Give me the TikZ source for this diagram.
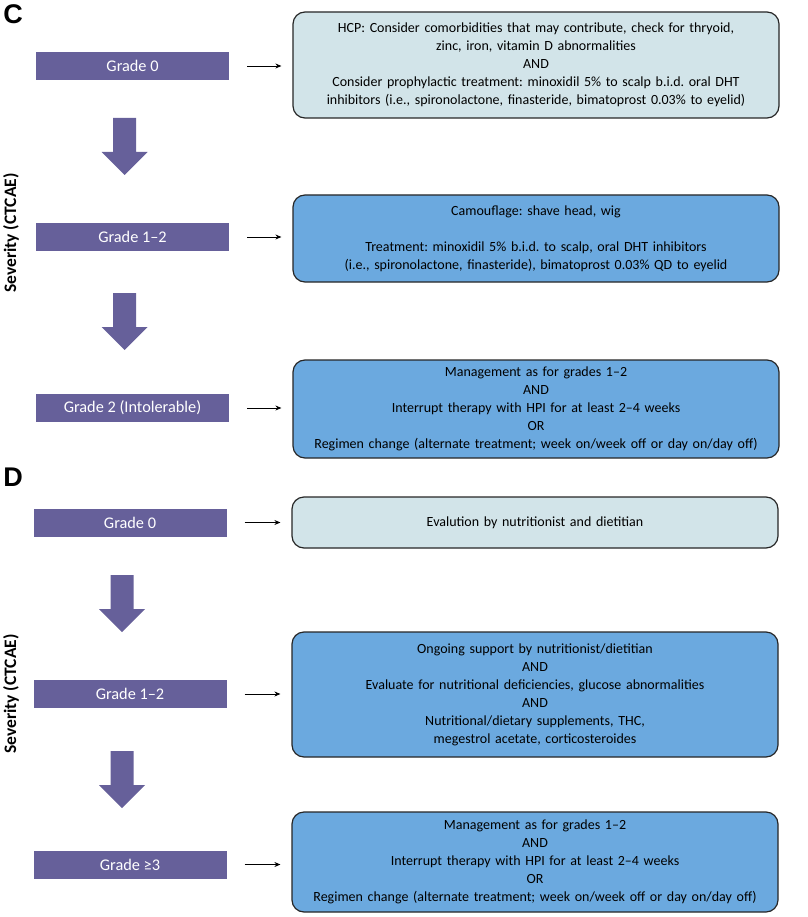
\documentclass[tikz,border=0pt]{standalone}
\usepackage{fontspec}
\setmainfont{Carlito}
\newfontfamily\panelfont{Liberation Sans}
\usetikzlibrary{arrows.meta,positioning}
\definecolor{gradebar}{RGB}{102,96,154}
\definecolor{palebox}{RGB}{210,228,233}
\definecolor{bluebox}{RGB}{107,169,223}
\frenchspacing

\begin{document}
\begin{tikzpicture}[
x=1pt, y=-1pt,
panel/.style={font=\panelfont\bfseries\fontsize{27}{27}\selectfont, inner sep=0pt},
severity/.style={rotate=90, font=\bfseries\fontsize{17.5}{17.5}\selectfont, inner sep=0pt},
grade/.style={fill=gradebar, text=white, minimum width=193pt, minimum height=28pt, inner sep=0pt, font=\fontsize{16.3}{18}\selectfont},
advice/.style={draw=black!85, line width=1.2pt, rounded corners=12pt, minimum width=486pt, text width=480pt, align=center, inner sep=0pt, font=\fontsize{14}{18}\selectfont},
pointer/.style={-{Stealth[length=6pt,width=5pt]}, line width=0.8pt, shorten <=18pt, shorten >=11pt},
flow/.style={fill=gradebar, draw=none}
]
\useasboundingbox (0,0) rectangle (807,917);

% Panel C
\node[panel] (pc) at (13,14) {C};
\node[severity] (sevc) at (11,233) {Severity (CTCAE)};

\node[grade] (gc0) at (132.5,66) {Grade 0};
\node[grade] (gc1) at (132.5,237) {Grade 1--2};
\node[grade] (gc2) at (132.5,408) {Grade 2 (Intolerable)};

\node[advice, fill=palebox, minimum height=106pt] (bc0) at (536,65) {HCP: Consider comorbidities that may contribute, check for thryoid,\\
zinc, iron, vitamin D abnormalities\\
AND\\
Consider prophylactic treatment: minoxidil 5\% to scalp b.i.d. oral DHT\\
inhibitors (i.e., spironolactone, finasteride, bimatoprost 0.03\% to eyelid)};
\node[advice, fill=bluebox, minimum height=87pt] (bc1) at (536,238.5) {Camouflage: shave head, wig\\[18pt]
Treatment: minoxidil 5\% b.i.d. to scalp, oral DHT inhibitors\\
(i.e., spironolactone, finasteride), bimatoprost 0.03\% QD to eyelid};
\node[advice, fill=bluebox, minimum height=98pt] (bc2) at (536,409) {Management as for grades 1--2\\
AND\\
Interrupt therapy with HPI for at least 2--4 weeks\\
OR\\
Regimen change (alternate treatment; week on/week off or day on/day off)};

\draw[pointer] (gc0.east) -- (gc0.east -| bc0.west);
\draw[pointer] (gc1.east) -- (gc1.east -| bc1.west);
\draw[pointer] (gc2.east) -- (gc2.east -| bc2.west);

% Panel D
\node[panel] (pd) at (13,477) {D};
\node[severity] (sevd) at (11,694) {Severity (CTCAE)};

\node[grade] (gd0) at (130,522.5) {Grade 0};
\node[grade] (gd1) at (130,694) {Grade 1--2};
\node[grade] (gd3) at (130,864.5) {Grade ≥3};

\node[advice, fill=palebox, minimum height=51pt] (bd0) at (535,522.5) {Evalution by nutritionist and dietitian};
\node[advice, fill=bluebox, minimum height=125pt] (bd1) at (535,694.5) {Ongoing support by nutritionist/dietitian\\
AND\\
Evaluate for nutritional deficiencies, glucose abnormalities\\
AND\\
Nutritional/dietary supplements, THC,\\
megestrol acetate, corticosteroides};
\node[advice, fill=bluebox, minimum height=100pt] (bd2) at (535,862) {Management as for grades 1--2\\
AND\\
Interrupt therapy with HPI for at least 2--4 weeks\\
OR\\
Regimen change (alternate treatment; week on/week off or day on/day off)};

\draw[pointer] (gd0.east) -- (gd0.east -| bd0.west);
\draw[pointer] (gd1.east) -- (gd1.east -| bd1.west);
\draw[pointer] (gd3.east) -- (gd3.east -| bd2.west);

% Block arrows between grades
\foreach \x/\y in {124.5/118, 124.5/293, 122/575, 122/751}
  \fill[flow] (\x-11.5,\y) -- (\x+11.5,\y) -- ++(0,34) -- ++(11.5,0) -- (\x,\y+57)
    -- (\x-23,\y+34) -- ++(11.5,0) -- cycle;

\end{tikzpicture}
\end{document}
